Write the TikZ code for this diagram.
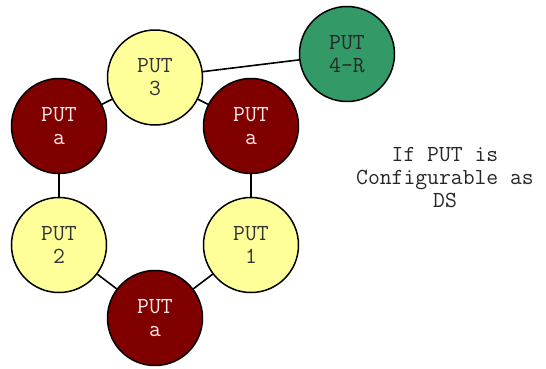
\documentclass[tikz,border=0pt]{standalone}
\usepackage{fontspec}
\definecolor{putyellow}{HTML}{FFFF99}
\definecolor{putred}{HTML}{800000}
\definecolor{putgreen}{HTML}{339966}
\definecolor{palepink}{HTML}{FFE8E8}
\begin{document}
\begin{tikzpicture}[x=1pt,y=-1pt,
  put/.style={circle,draw=black,line width=1.5pt,minimum size=95pt,inner sep=0pt,align=center,
    font=\ttfamily\fontsize{23}{23}\selectfont},
  yel/.style={put,fill=putyellow,text=black!80},
  red/.style={put,fill=putred,text=palepink},
  grn/.style={put,fill=putgreen,text=black!85},
  link/.style={draw=black,line width=1.6pt}]
\useasboundingbox (0,0) rectangle (546,368);
\node[yel] (p3) at (155,77.5) {PUT\\3};
\node[red] (al) at (59,126) {PUT\\a};
\node[red] (ar) at (251,126) {PUT\\a};
\node[yel] (p2) at (59,245) {PUT\\2};
\node[yel] (p1) at (251,245) {PUT\\1};
\node[red] (ab) at (155,318) {PUT\\a};
\node[grn] (p4) at (347,54) {PUT\\4-R};
\path[link] (p3) -- (al);
\path[link] (p3) -- (ar);
\path[link] (al) -- (p2);
\path[link] (ar) -- (p1);
\path[link] (p2) -- (ab);
\path[link] (p1) -- (ab);
\path[link] (p3) -- (p4);
\node[align=center,text=black!85,font=\ttfamily\fontsize{23}{23}\selectfont] (note) at (445,178) {If PUT is\\Configurable as\\DS};
\end{tikzpicture}
\end{document}
